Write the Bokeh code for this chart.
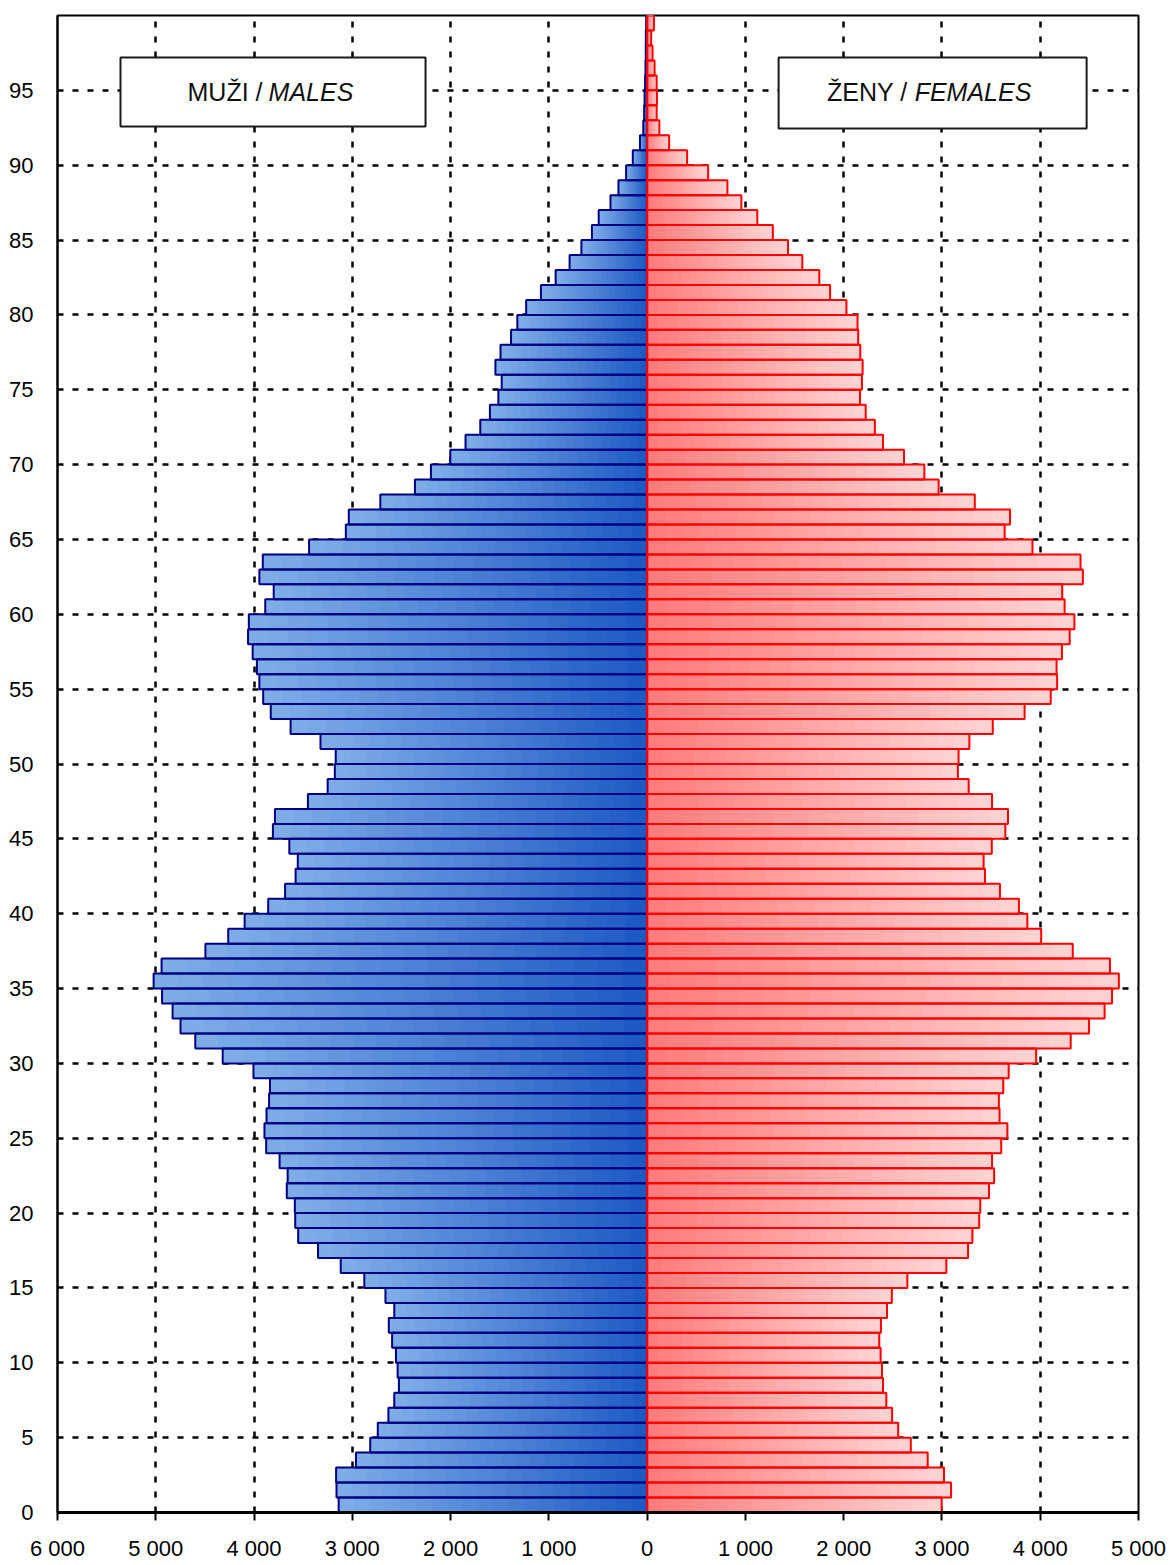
from bokeh.plotting import figure
from bokeh.models import Range1d, FixedTicker, BoxAnnotation, Label, ColumnDataSource
from bokeh.embed import file_html
from bokeh.resources import INLINE

ages = list(range(100))

males = [3139, 3161, 3165, 2963, 2818, 2741, 2633, 2573, 2526, 2539,
         2556, 2595, 2629, 2573, 2663, 2878, 3118, 3349, 3551, 3581,
         3585, 3667, 3658, 3740, 3877, 3894, 3873, 3847, 3838, 4006,
         4319, 4598, 4748, 4829, 4936, 5022, 4941, 4495, 4263, 4096,
         3856, 3684, 3577, 3555, 3641, 3808, 3787, 3452, 3251, 3178,
         3169, 3324, 3628, 3830, 3907, 3946, 3971, 4014, 4061, 4053,
         3886, 3800, 3946, 3911, 3440, 3066, 3036, 2715, 2363, 2200,
         2003, 1848, 1698, 1600, 1514, 1480, 1544, 1492, 1385, 1321,
         1231, 1081, 931, 789, 669, 562, 493, 373, 292, 214,
         146, 73, 39, 30, 26, 21, 17, 14, 13, 10]

females = [2997, 3093, 3021, 2855, 2683, 2555, 2493, 2434, 2400, 2390,
           2376, 2362, 2379, 2441, 2490, 2648, 3045, 3266, 3310, 3379,
           3390, 3479, 3531, 3510, 3603, 3666, 3586, 3579, 3624, 3679,
           3959, 4310, 4497, 4655, 4731, 4800, 4710, 4331, 4010, 3869,
           3783, 3590, 3438, 3424, 3507, 3645, 3672, 3510, 3272, 3162,
           3169, 3279, 3517, 3841, 4107, 4172, 4166, 4221, 4300, 4348,
           4248, 4224, 4434, 4410, 3921, 3638, 3693, 3334, 2966, 2821,
           2614, 2400, 2317, 2224, 2166, 2186, 2193, 2169, 2148, 2141,
           2028, 1862, 1752, 1579, 1434, 1279, 1121, 959, 817, 621,
           407, 224, 124, 97, 100, 97, 76, 55, 41, 69]

x_ticks = [-6000, -5000, -4000, -3000, -2000, -1000, 0, 1000, 2000, 3000, 4000, 5000]
x_tick_labels = ["6 000", "5 000", "4 000", "3 000", "2 000", "1 000", "0",
                 "1 000", "2 000", "3 000", "4 000", "5 000"]
y_ticks = list(range(0, 100, 5))

FONT = "Liberation Sans"

p = figure(width=1170, height=1565, output_backend="svg", toolbar_location=None,
           x_range=Range1d(-6000, 5000), y_range=Range1d(0, 100),
           min_border_left=57, min_border_right=32, min_border_top=15, min_border_bottom=53)
p.background_fill_color = "white"
p.border_fill_color = "white"
p.outline_line_color = "black"
p.outline_line_width = 2

def lerp(c1, c2, t):
    return "#%02x%02x%02x" % tuple(int(round(a + (b - a) * t)) for a, b in zip(c1, c2))

# gradient fill: nested rectangles from the bar end to the axis, lightest (outermost) first
N = 20
m_dark, m_light = (0x1c, 0x58, 0xc4), (0x80, 0xae, 0xe8)
f_dark, f_light = (0xff, 0x7a, 0x7a), (0xff, 0xd4, 0xd4)
ml, mb, mt, mc = [], [], [], []
fr, fb, ft, fc = [], [], [], []
for k in range(N, 0, -1):
    t = k / N
    for a, mv, fv in zip(ages, males, females):
        ml.append(-mv * t); mb.append(a); mt.append(a + 1)
        mc.append(lerp(m_dark, m_light, (k - 0.5) / N))
        fr.append(fv * t); fb.append(a); ft.append(a + 1)
        fc.append(lerp(f_dark, f_light, (k - 0.5) / N))

p.quad(left=ml, right=0, bottom=mb, top=mt, fill_color=mc, line_color=None)
p.quad(left=0, right=fr, bottom=fb, top=ft, fill_color=fc, line_color=None)

src = ColumnDataSource(dict(
    y=[a + 0.5 for a in ages],
    m=[-v for v in males],
    f=females,
))
p.hbar(y="y", left="m", right=0, height=1, source=src, fill_color=None,
       line_color="#000080", line_width=2)
p.hbar(y="y", left=0, right="f", height=1, source=src, fill_color=None,
       line_color="#ff0000", line_width=2)

# grid
p.xaxis.ticker = FixedTicker(ticks=x_ticks)
p.yaxis.ticker = FixedTicker(ticks=y_ticks)
for g in (p.xgrid, p.ygrid):
    g.grid_line_color = "black"
    g.grid_line_dash = "6 9"
    g.grid_line_width = 2.5
p.xgrid.ticker = FixedTicker(ticks=x_ticks)
p.ygrid.ticker = FixedTicker(ticks=y_ticks)

# axes
p.xaxis.major_label_overrides = {t: s for t, s in zip(x_ticks, x_tick_labels)}
for ax in (p.xaxis, p.yaxis):
    ax.axis_line_color = "black"
    ax.major_label_text_font = FONT
    ax.major_label_text_font_size = "22px"
    ax.major_label_text_color = "black"
    ax.minor_tick_line_color = None
p.xaxis.axis_line_width = 3
p.xaxis.major_tick_line_color = "black"
p.xaxis.major_tick_line_width = 2
p.xaxis.major_tick_out = 8
p.xaxis.major_tick_in = 0
p.xaxis.major_label_standoff = 15
p.yaxis.axis_line_width = 2
p.yaxis.major_tick_line_color = None
p.yaxis.major_label_standoff = 18

# legend boxes
for l, r, t, b in ((-5359, -2255, 97.19, 92.59), (1338, 4472, 97.19, 92.45)):
    p.add_layout(BoxAnnotation(left=l, right=r, top=t, bottom=b,
                               fill_color="white", fill_alpha=1, line_color="#1a1a1a",
                               line_alpha=1, line_width=2, level="annotation"))

def lab(x, y, text, align, style):
    p.add_layout(Label(x=x, y=y, text=text, text_align=align, text_baseline="middle",
                       text_font=FONT, text_font_size="25px", text_font_style=style,
                       text_color="#111111"))

lab(-3914, 94.9, "MUŽI /", "right", "normal")
lab(-3852, 94.9, "MALES", "left", "italic")
lab(2651, 94.9, "ŽENY /", "right", "normal")
lab(2722, 94.9, "FEMALES", "left", "italic")

open("out.html", "w").write(file_html(p, INLINE))
